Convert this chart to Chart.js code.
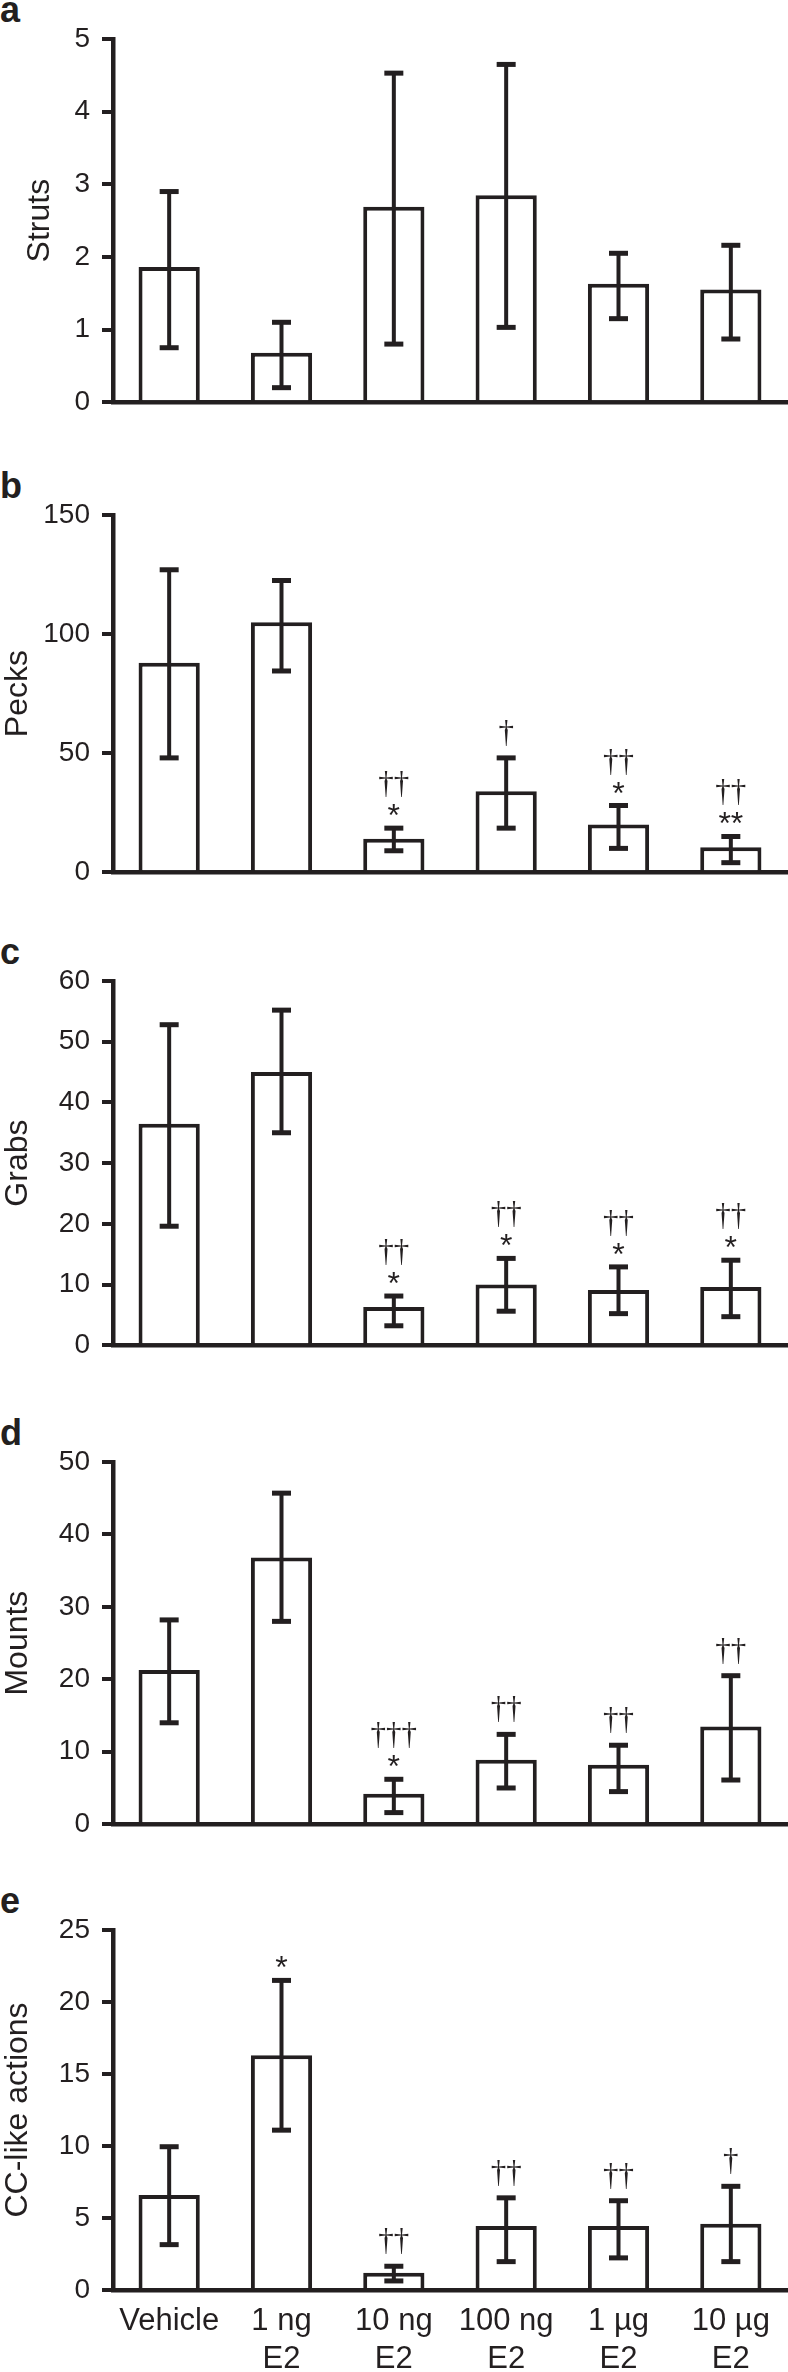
<!DOCTYPE html>
<html><head><meta charset="utf-8">
<script src="https://cdn.jsdelivr.net/npm/chart.js@4"></script>
<style>
html,body{margin:0;padding:0;background:#fff;width:788px;height:2372px;overflow:hidden;position:relative;}
canvas{position:absolute;left:0;}
.lbl{position:absolute;left:0;font:bold 36px "Liberation Sans",Arial,sans-serif;line-height:36px;color:#231f20;}
</style></head><body>
<script>
// ---- data ----
const categories = [['Vehicle'], ['1 ng', 'E2'], ['10 ng', 'E2'], ['100 ng', 'E2'], ['1 µg', 'E2'], ['10 µg', 'E2']];

const struts   = [1.86, 0.68, 2.69, 2.85, 1.63, 1.55];
const strutsHi = [2.90, 1.10, 4.53, 4.65, 2.05, 2.16];
const strutsLo = [0.75, 0.20, 0.80, 1.03, 1.15, 0.87];
const strutsDaggers = ['', '', '', '', '', ''];
const strutsStars   = ['', '', '', '', '', ''];

const pecks   = [88, 105, 14, 34, 20, 10.5];
const pecksHi = [127, 122.5, 18.5, 48, 28, 15];
const pecksLo = [48, 84.5, 9, 18.5, 10, 4];
const pecksDaggers = ['', '', '††', '†', '††', '††'];
const pecksStars   = ['', '', '*', '', '*', '**'];

const grabs   = [36.5, 45, 6.3, 10, 9.1, 9.6];
const grabsHi = [52.8, 55.2, 8.1, 14.3, 12.9, 14.0];
const grabsLo = [19.6, 35, 3.2, 5.6, 5.2, 4.7];
const grabsDaggers = ['', '', '††', '††', '††', '††'];
const grabsStars   = ['', '', '*', '*', '*', '*'];

const mounts   = [21.3, 36.8, 4.2, 8.9, 8.2, 13.5];
const mountsHi = [28.2, 45.7, 6.2, 12.4, 10.9, 20.5];
const mountsLo = [14, 28, 1.6, 5, 4.5, 6.1];
const mountsDaggers = ['', '', '†††', '††', '††', '††'];
const mountsStars   = ['', '', '*', '', '', ''];

const cc   = [6.6, 16.3, 1.2, 4.45, 4.45, 4.6];
const ccHi = [9.95, 21.5, 1.65, 6.4, 6.2, 7.2];
const ccLo = [3.15, 11.1, 0.63, 1.97, 2.23, 1.97];
const ccDaggers = ['', '', '††', '††', '††', '†'];
const ccStars   = ['', '*', '', '', '', ''];

const INK = '#231f20';
const SANS = '"Liberation Sans", Arial, sans-serif';

const errPlugin = {
  id: 'errAnno',
  afterDatasetsDraw(chart, args, opts) {
    const ctx = chart.ctx;
    const meta = chart.getDatasetMeta(0);
    const ys = chart.scales.y;
    ctx.save();
    ctx.strokeStyle = INK; ctx.fillStyle = INK; ctx.lineCap = 'butt';
    meta.data.forEach((bar, i) => {
      const x = bar.x;
      const yHi = ys.getPixelForValue(opts.hi[i]);
      const yLo = ys.getPixelForValue(opts.lo[i]);
      ctx.lineWidth = 4;
      ctx.beginPath(); ctx.moveTo(x, yLo); ctx.lineTo(x, yHi); ctx.stroke();
      ctx.lineWidth = 5;
      [yHi, yLo].forEach(y => { ctx.beginPath(); ctx.moveTo(x - 9.5, y); ctx.lineTo(x + 9.5, y); ctx.stroke(); });
      let bottom = yHi - 12;
      const s = opts.stars[i], d = opts.daggers[i];
      ctx.textAlign = 'center'; ctx.textBaseline = 'alphabetic';
      if (s) {
        ctx.font = '32px ' + SANS;
        const m = ctx.measureText(s);
        ctx.fillText(s, x, bottom - m.actualBoundingBoxDescent);
        bottom = bottom - (m.actualBoundingBoxAscent + m.actualBoundingBoxDescent) - 7;
      }
      if (d) {
        ctx.font = '31px "Liberation Serif", "DejaVu Serif", serif';
        const m = ctx.measureText(d);
        ctx.fillText(d, x, bottom - m.actualBoundingBoxDescent);
      }
    });
    ctx.restore();
  }
};

const panels = [
  {letter: 'a', title: 'Struts', v: struts, hi: strutsHi, lo: strutsLo, dg: strutsDaggers, st: strutsStars, max: 5, step: 1, top: 39, bottom: 402, tpad: 21, showX: false},
  {letter: 'b', title: 'Pecks', v: pecks, hi: pecksHi, lo: pecksLo, dg: pecksDaggers, st: pecksStars, max: 150, step: 50, top: 515, bottom: 872, tpad: -1, showX: false},
  {letter: 'c', title: 'Grabs', v: grabs, hi: grabsHi, lo: grabsLo, dg: grabsDaggers, st: grabsStars, max: 60, step: 10, top: 981, bottom: 1345, tpad: -1, showX: false},
  {letter: 'd', title: 'Mounts', v: mounts, hi: mountsHi, lo: mountsLo, dg: mountsDaggers, st: mountsStars, max: 50, step: 10, top: 1462, bottom: 1824, tpad: -1, showX: false},
  {letter: 'e', title: 'CC-like actions', v: cc, hi: ccHi, lo: ccLo, dg: ccDaggers, st: ccStars, max: 25, step: 5, top: 1930, bottom: 2290, tpad: -1, showX: true}
];

function makeChart(cv, p, xH) {
  return new Chart(cv, {
    type: 'bar',
    data: {
      labels: categories,
      datasets: [{
        data: p.v,
        backgroundColor: '#ffffff',
        borderColor: INK,
        borderWidth: 4,
        barPercentage: 0.545,
        categoryPercentage: 1.0
      }]
    },
    options: {
      responsive: false,
      maintainAspectRatio: false,
      animation: false,
      devicePixelRatio: 1,
      layout: {padding: {top: 30, left: 0, right: 1, bottom: 0}},
      plugins: {
        legend: {display: false},
        tooltip: {enabled: false},
        errAnno: {hi: p.hi, lo: p.lo, daggers: p.dg, stars: p.st}
      },
      scales: {
        x: {
          grid: {display: false, drawTicks: false},
          border: {display: true, width: 4.5, color: INK},
          ticks: {
            display: p.showX, color: INK, padding: 12, maxRotation: 0, autoSkip: false,
            font: {family: SANS, size: 31, lineHeight: 1.24}
          },
          afterFit: s => { s.height = xH; }
        },
        y: {
          min: 0, max: p.max,
          grid: {display: true, drawOnChartArea: false, drawTicks: true, tickLength: 11, lineWidth: 4, color: INK},
          border: {display: true, width: 4.5, color: INK},
          ticks: {stepSize: p.step, color: INK, padding: 12, font: {family: SANS, size: 28}},
          title: {display: true, text: p.title, color: INK, padding: {top: p.tpad, bottom: 0}, font: {family: SANS, size: 32}},
          afterFit: s => { s.width = 113; }
        }
      }
    },
    plugins: [errPlugin]
  });
}

panels.forEach(p => {
  const lbl = document.createElement('div');
  lbl.className = 'lbl';
  lbl.textContent = p.letter;
  lbl.style.top = (p.top - 17 - 30.5) + 'px';
  document.body.appendChild(lbl);

  const xH = p.showX ? (2372 - p.bottom) : 6;
  let h = p.bottom - (p.top - 30) + xH;
  const cv = document.createElement('canvas');
  cv.width = 788; cv.height = h;
  cv.style.width = '788px'; cv.style.height = h + 'px';
  document.body.appendChild(cv);

  let ch = makeChart(cv, p, xH);
  const ca = ch.chartArea;
  const want = p.bottom - p.top;
  const have = ca.bottom - ca.top;
  if (Math.abs(want - have) > 0.5) {
    ch.destroy();
    h = Math.round(h + (want - have));
    cv.width = 788; cv.height = h;
    cv.style.height = h + 'px';
    ch = makeChart(cv, p, xH);
  }
  cv.style.top = (p.top - ch.chartArea.top) + 'px';
});
</script>
</body></html>
